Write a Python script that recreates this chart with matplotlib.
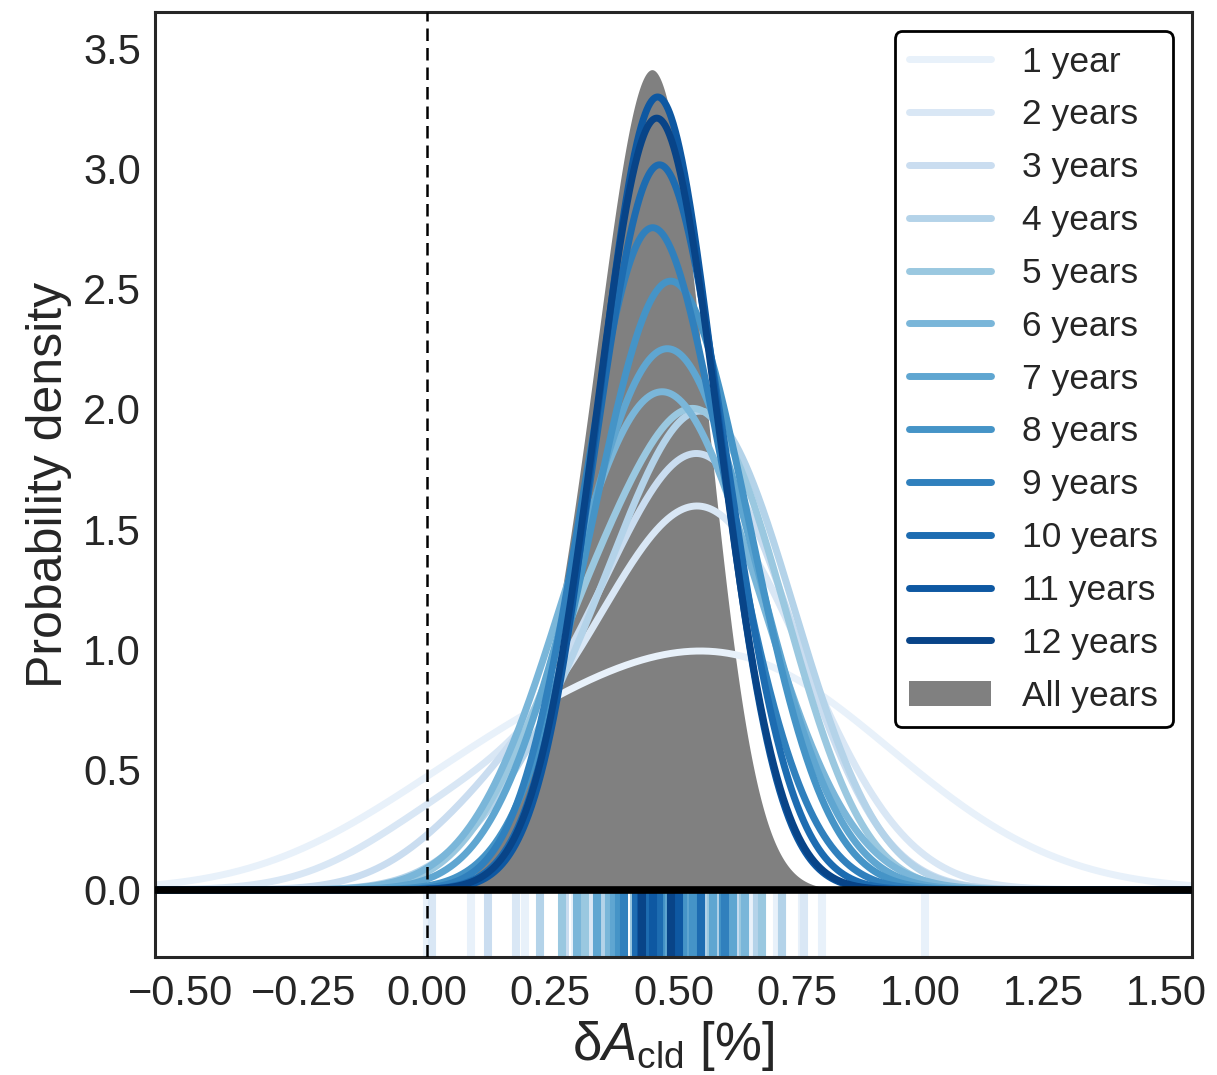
import numpy as np
import matplotlib
matplotlib.use("Agg")
import matplotlib.pyplot as plt
from matplotlib.lines import Line2D
from matplotlib.patches import Patch
from matplotlib.ticker import FuncFormatter

plt.rcParams['font.family'] = ['Liberation Sans', 'DejaVu Sans']
plt.rcParams['mathtext.fontset'] = 'custom'
plt.rcParams['mathtext.rm'] = 'Liberation Sans'
plt.rcParams['mathtext.it'] = 'Liberation Sans:italic'

# dA_cld estimates [%] from every window of a given length (years)
est_01 = [0.0, 0.09, 0.20, 0.30, 0.39, 0.47, 0.54, 0.60, 0.66, 0.71, 0.76, 0.80, 1.01]
est_02 = [0.01, 0.18, 0.33, 0.42, 0.47, 0.51, 0.54, 0.57, 0.60, 0.64, 0.68, 0.765]
est_03 = [0.125, 0.28, 0.38, 0.44, 0.49, 0.53, 0.56, 0.59, 0.63, 0.67, 0.72]
est_04 = [0.23, 0.36, 0.44, 0.49, 0.53, 0.56, 0.59, 0.62, 0.67, 0.72]
est_05 = [0.275, 0.32, 0.42, 0.48, 0.53, 0.575, 0.60, 0.64, 0.68]
est_06 = [0.305, 0.37, 0.43, 0.46, 0.49, 0.53, 0.58, 0.645]
est_07 = [0.345, 0.38, 0.45, 0.49, 0.53, 0.58, 0.62]
est_08 = [0.39, 0.44, 0.475, 0.52, 0.54, 0.60]
est_09 = [0.40, 0.43, 0.45, 0.47, 0.605]
est_10 = [0.425, 0.45, 0.47, 0.555]
est_11 = [0.435, 0.458, 0.512]
est_12 = [0.437, 0.495]

# 1-sigma uncertainty of a single window estimate, per window length
sigma_by_length = [0.26, 0.17, 0.15, 0.145, 0.14, 0.16, 0.147, 0.141, 0.127, 0.1227, 0.1165, 0.1208]

year_labels = ["1 year"] + [f"{n} years" for n in range(2, 13)]

# estimates using the full record
all_years_est = [0.29, 0.385, 0.425, 0.45, 0.475, 0.51, 0.535]
all_years_sigma = 0.089

x_ticks = [-0.50, -0.25, 0.00, 0.25, 0.50, 0.75, 1.00, 1.25, 1.50]
y_ticks = [0.0, 0.5, 1.0, 1.5, 2.0, 2.5, 3.0, 3.5]

estimates = [est_01, est_02, est_03, est_04, est_05, est_06,
             est_07, est_08, est_09, est_10, est_11, est_12]


def mixture_density(x, centres, sigma):
    c = np.asarray(centres, dtype=float)[:, None]
    g = np.exp(-0.5 * ((x[None, :] - c) / sigma) ** 2)
    return g.mean(axis=0) / (sigma * np.sqrt(2.0 * np.pi))


text_col = '#262626'
xlim = (-0.551, 1.551)
ylim = (-0.279, 3.65)

fig = plt.figure(figsize=(12.17, 10.75), dpi=100)
ax = fig.add_axes([155 / 1217, 1 - 957 / 1075, (1192 - 155) / 1217, (957 - 12) / 1075])

colors = plt.get_cmap('Blues')(np.linspace(0, 1, len(estimates) + 2)[1:-1])
x = np.linspace(xlim[0], xlim[1], 2000)

# pooled distribution
ax.fill_between(x, 0, mixture_density(x, all_years_est, all_years_sigma),
                color='gray', lw=0, zorder=1)

for est, sig, col in zip(estimates, sigma_by_length, colors):
    ax.plot(x, mixture_density(x, est, sig), color=col, lw=5,
            solid_capstyle='round', zorder=2)

# rug of window estimates below zero
for est, col in zip(estimates, colors):
    ax.vlines(est, ylim[0] - 0.05, 0, color=col, lw=5.8, zorder=1.5)

ax.axhline(0, color='black', lw=5.5, zorder=4)
ax.axvline(0, color='black', lw=1.8, dashes=(5, 2.8), zorder=3)

ax.set_xlim(xlim)
ax.set_ylim(ylim)
ax.set_xticks(x_ticks)
ax.set_yticks(y_ticks)
ax.xaxis.set_major_formatter(FuncFormatter(lambda v, p: f"{v:.2f}".replace('-', '\u2212')))
ax.yaxis.set_major_formatter(FuncFormatter(lambda v, p: f"{v:.1f}".replace('-', '\u2212')))
ax.tick_params(axis='both', length=0, labelsize=30, labelcolor=text_col)
ax.tick_params(axis='x', pad=12)
ax.tick_params(axis='y', pad=10)
for s in ax.spines.values():
    s.set_color(text_col)
    s.set_linewidth(2.2)

ax.set_ylabel('Probability density', fontsize=36, color=text_col, labelpad=8)
ax.set_xlabel('\u03b4$A_{\\mathrm{cld}}$ [%]', fontsize=38, color=text_col, labelpad=4)

handles = [Line2D([], [], color=c, lw=5, solid_capstyle='round') for c in colors]
handles.append(Patch(facecolor='gray', edgecolor='none'))
leg = ax.legend(handles, year_labels + ['All years'], loc='upper right',
                fontsize=25.5, frameon=True, fancybox=True, framealpha=1,
                edgecolor='black', handlelength=2.3, handletextpad=0.9,
                labelspacing=0.56, borderpad=0.4, borderaxespad=0.55)
leg.get_frame().set_linewidth(2)
for t in leg.get_texts():
    t.set_color(text_col)

fig.savefig('out.png', dpi=100)
